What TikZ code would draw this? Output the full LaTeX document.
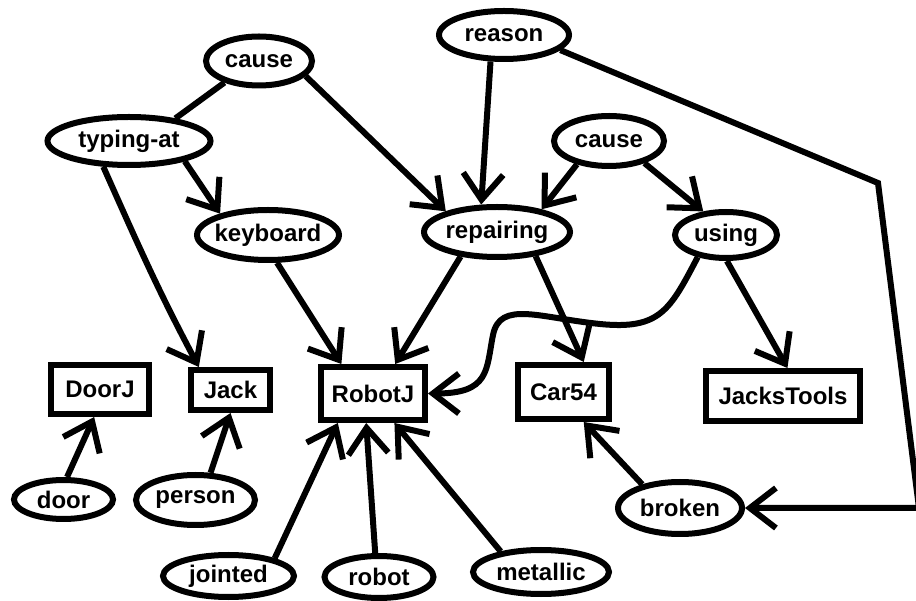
\documentclass[tikz,border=0pt]{standalone}
\usepackage{fontspec}
\setmainfont{Liberation Sans}
\usetikzlibrary{shapes.geometric,arrows.meta}
\begin{document}
\begin{tikzpicture}[x=1pt,y=1pt,
  lbl/.style={font=\bfseries\fontsize{24}{28}\selectfont},
  ellnode/.style={lbl,ellipse,draw,line width=6pt,inner sep=0pt},
  boxnode/.style={lbl,rectangle,draw,line width=6pt,inner sep=0pt},
  conn/.style={line width=6pt},
  arr/.style={conn,-{Straight Barb[length=26pt,width=40pt]}}]
\useasboundingbox (0,0) rectangle (916,600);
% ellipses
\node[ellnode,minimum width=106pt,minimum height=49pt] (cause1) at (259,539) {\makebox[0pt]{cause}};
\node[ellnode,minimum width=163pt,minimum height=48pt] (typing) at (129,459) {\makebox[0pt]{typing-at}};
\node[ellnode,minimum width=142pt,minimum height=50pt] (keyboard) at (268,365) {\makebox[0pt]{keyboard}};
\node[ellnode,minimum width=130pt,minimum height=48pt] (reason) at (504,565) {\makebox[0pt]{reason}};
\node[ellnode,minimum width=110pt,minimum height=50pt] (cause2) at (609,459) {\makebox[0pt]{cause}};
\node[ellnode,minimum width=146pt,minimum height=50pt] (repairing) at (497,368) {\makebox[0pt]{repairing}};
\node[ellnode,minimum width=102pt,minimum height=46pt] (using) at (726,365) {\makebox[0pt]{using}};
\node[ellnode,minimum width=99pt,minimum height=39pt] (door) at (63.5,100.5) {\makebox[0pt]{door}};
\node[ellnode,minimum width=119pt,minimum height=50pt] (person) at (195.5,100) {\makebox[0pt]{person}};
\node[ellnode,minimum width=131pt,minimum height=42pt] (jointed) at (228.5,24) {\makebox[0pt]{jointed}};
\node[ellnode,minimum width=109pt,minimum height=42pt] (robot) at (379,23) {\makebox[0pt]{robot}};
\node[ellnode,minimum width=136pt,minimum height=44pt] (metallic) at (541,28) {\makebox[0pt]{metallic}};
\node[ellnode,minimum width=124pt,minimum height=52pt] (broken) at (680,92) {\makebox[0pt]{broken}};
% boxes
\node[boxnode,minimum width=98pt,minimum height=49pt] (DoorJ) at (100,210.5) {DoorJ};
\node[boxnode,minimum width=79pt,minimum height=40pt] (Jack) at (230.5,210) {Jack};
\node[boxnode,minimum width=104pt,minimum height=53pt] (RobotJ) at (373,206.5) {RobotJ};
\node[boxnode,minimum width=91pt,minimum height=54pt] (Car54) at (563.5,208) {Car54};
\node[boxnode,minimum width=154pt,minimum height=50pt] (JacksTools) at (783,204) {JacksTools};
% connectors
\draw[conn] (cause1.212) -- (typing.26);
\draw[arr] (cause1.-18) -- (repairing.158);
\draw[arr] (typing.-20) -- (keyboard.156);
\draw[arr] (typing.225) to[out=-66,in=118] (Jack.144);
\draw[arr] (keyboard.-72) -- (RobotJ.137);
\draw[arr] (repairing.214) -- (RobotJ.53);
\draw[arr] (metallic.153) -- (RobotJ.-54);
\draw[arr] (robot.99) -- (RobotJ.257);
\draw[arr] (jointed.21) -- (RobotJ.220);
\coordinate (u1) at (600,276);
\coordinate (u2) at (493,265);
\draw[arr] (using.218) .. controls (670,290) and (660,270) .. (u1)
  .. controls (540,282) and (500,300) .. (u2)
  .. controls (486,230) and (490,206.5) .. (RobotJ.east);
\draw[arr] (repairing.-32) -- (Car54.56);
\draw[arr] (reason.243) -- (repairing.120);
\draw[arr] (cause2.216) -- (repairing.27);
\draw[arr] (cause2.-32) -- (using.134);
\draw[arr] (using.-88) -- (JacksTools.81);
\coordinate (r1) at (878,417);
\coordinate (r2) at (919,92);
\draw[arr] (reason.-15) -- (r1) -- (r2) -- (broken.east);
\draw[arr] (broken.148) -- (Car54.-56);
\draw[arr] (person.61) -- (Jack.south);
\draw[arr] (door.81) -- (DoorJ.258);
\end{tikzpicture}
\end{document}
